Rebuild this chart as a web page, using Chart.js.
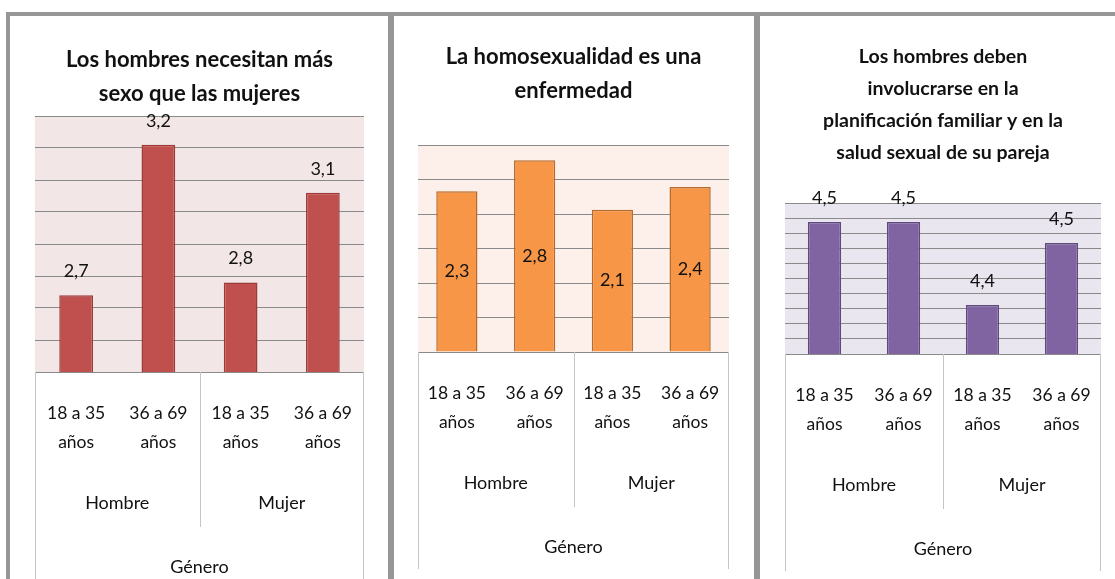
<!DOCTYPE html>
<html><head><meta charset="utf-8">
<script src="https://cdn.jsdelivr.net/npm/chart.js@4"></script>
<style>
html,body{margin:0;padding:0;background:#fff;width:1115px;height:579px;overflow:hidden;}
canvas{position:absolute;left:0;top:0;}
.fr{position:absolute;background:#969696;}
</style></head><body>
<div class="fr" style="left:6px;top:12px;width:1109px;height:4px"></div>
<div class="fr" style="left:6px;top:12px;width:4px;height:567px"></div>
<div class="fr" style="left:388px;top:12px;width:6px;height:567px"></div>
<div class="fr" style="left:754px;top:12px;width:6px;height:567px"></div>
<canvas id="c1" width="1115" height="579"></canvas>
<canvas id="c2" width="1115" height="579"></canvas>
<canvas id="c3" width="1115" height="579"></canvas>
<script>
// ---- data ----
const ageLabels = [["18 a 35","años"],["36 a 69","años"],["18 a 35","años"],["36 a 69","años"]];
const genderGroups = ["Hombre","Mujer"];
const axisTitle = "Género";

const titleSexo = ["Los hombres necesitan más","sexo que las mujeres"];
const valuesSexo = [2.74, 3.21, 2.78, 3.06];
const axisSexo = [2.5, 3.3, 0.1];

const titleHomo = ["La homosexualidad es una","enfermedad"];
const valuesHomo = [2.33, 2.78, 2.06, 2.39];
const axisHomo = [0, 3, 0.5];

const titlePlan = ["Los hombres deben","involucrarse en la","planificación familiar y en la","salud sexual de su pareja"];
const valuesPlan = [4.515, 4.515, 4.405, 4.487];
const axisPlan = [4.34, 4.54, 0.02];

// ---- drawing ----
const FONT = 'Lato, "Liberation Sans", sans-serif';
const decor = {
  id: 'decor',
  beforeDraw(chart, args, o) {
    const {ctx, chartArea: a} = chart;
    ctx.save();
    ctx.fillStyle = o.bg;
    ctx.fillRect(a.left, a.top, a.right - a.left, a.bottom - a.top);
    ctx.restore();
  },
  afterDraw(chart, args, o) {
    const {ctx, chartArea: a} = chart;
    const x = chart.scales.x;
    const b = a.bottom;
    const cx = (a.left + a.right) / 2;
    ctx.save();
    ctx.fillStyle = '#111';
    ctx.textAlign = 'center';
    ctx.textBaseline = 'middle';
    ctx.font = o.titleFont;
    o.title.forEach((t, i) => ctx.fillText(t, cx, o.titleY[i]));
    // category table lines
    ctx.strokeStyle = '#c4c4c4';
    ctx.lineWidth = 1;
    const line = (x1, y1, x2, y2) => { ctx.beginPath(); ctx.moveTo(x1, y1); ctx.lineTo(x2, y2); ctx.stroke(); };
    line(Math.round(a.left) + 0.5, b, Math.round(a.left) + 0.5, b + 217);
    line(Math.round(a.right) - 0.5, b, Math.round(a.right) - 0.5, b + 217);
    const mid = Math.round((x.getPixelForValue(1) + x.getPixelForValue(2)) / 2) + 0.5;
    line(mid, b, mid, b + 155);
    // category labels
    ctx.fillStyle = '#111';
    ctx.font = '17.5px ' + FONT;
    ageLabels.forEach((l, i) => {
      const px = x.getPixelForValue(i);
      ctx.fillText(l[0], px, b + 41);
      ctx.fillText(l[1], px, b + 70);
    });
    ctx.font = '18px ' + FONT;
    genderGroups.forEach((g, j) => {
      const px = (x.getPixelForValue(2 * j) + x.getPixelForValue(2 * j + 1)) / 2;
      ctx.fillText(g, px, b + 131);
    });
    ctx.fillText(axisTitle, cx, b + 195);
    // value labels
    const meta = chart.getDatasetMeta(0);
    const data = chart.data.datasets[0].data;
    ctx.font = '18px ' + FONT;
    meta.data.forEach((bar, i) => {
      const y = o.inside ? (bar.y + bar.base) / 2 : bar.y - 24;
      ctx.fillText(data[i].toFixed(1).replace('.', ','), bar.x, y);
    });
    ctx.restore();
  }
};

function makeChart(id, values, axis, cfg) {
  new Chart(document.getElementById(id), {
    type: 'bar',
    data: {
      labels: ageLabels.map(l => l.join(' ')),
      datasets: [{
        data: values,
        backgroundColor: cfg.color,
        borderColor: cfg.border,
        borderWidth: 1.5,
        barPercentage: cfg.barPct,
        categoryPercentage: 1
      }]
    },
    options: {
      responsive: false,
      animation: false,
      events: [],
      layout: { padding: cfg.pad },
      scales: {
        x: { display: false },
        y: {
          min: axis[0], max: axis[1],
          ticks: { display: false, stepSize: axis[2] },
          grid: { color: '#8a8a8a', lineWidth: 1, drawTicks: false },
          border: { display: false }
        }
      },
      plugins: {
        legend: { display: false },
        tooltip: { enabled: false },
        title: { display: false },
        decor: cfg.decor
      }
    },
    plugins: [decor]
  });
}

makeChart('c1', valuesSexo, axisSexo, {
  color: '#C0504D', border: '#9A3B38', barPct: 0.41,
  pad: { left: 35, right: 751, top: 116, bottom: 207 },
  decor: { bg: '#F3E6E6', title: titleSexo, titleY: [60, 94], titleFont: 'bold 22px ' + FONT, inside: false }
});
makeChart('c2', valuesHomo, axisHomo, {
  color: '#F79646', border: '#B8692C', barPct: 0.53,
  pad: { left: 418, right: 386, top: 145, bottom: 227 },
  decor: { bg: '#FDEFE9', title: titleHomo, titleY: [57, 91], titleFont: 'bold 22px ' + FONT, inside: true }
});
makeChart('c3', valuesPlan, axisPlan, {
  color: '#8064A2', border: '#5E4A7A', barPct: 0.42,
  pad: { left: 785, right: 14, top: 203, bottom: 225 },
  decor: { bg: '#E9E6F0', title: titlePlan, titleY: [57, 89, 121, 153], titleFont: 'bold 19.5px ' + FONT, inside: false }
});
</script>
</body></html>
